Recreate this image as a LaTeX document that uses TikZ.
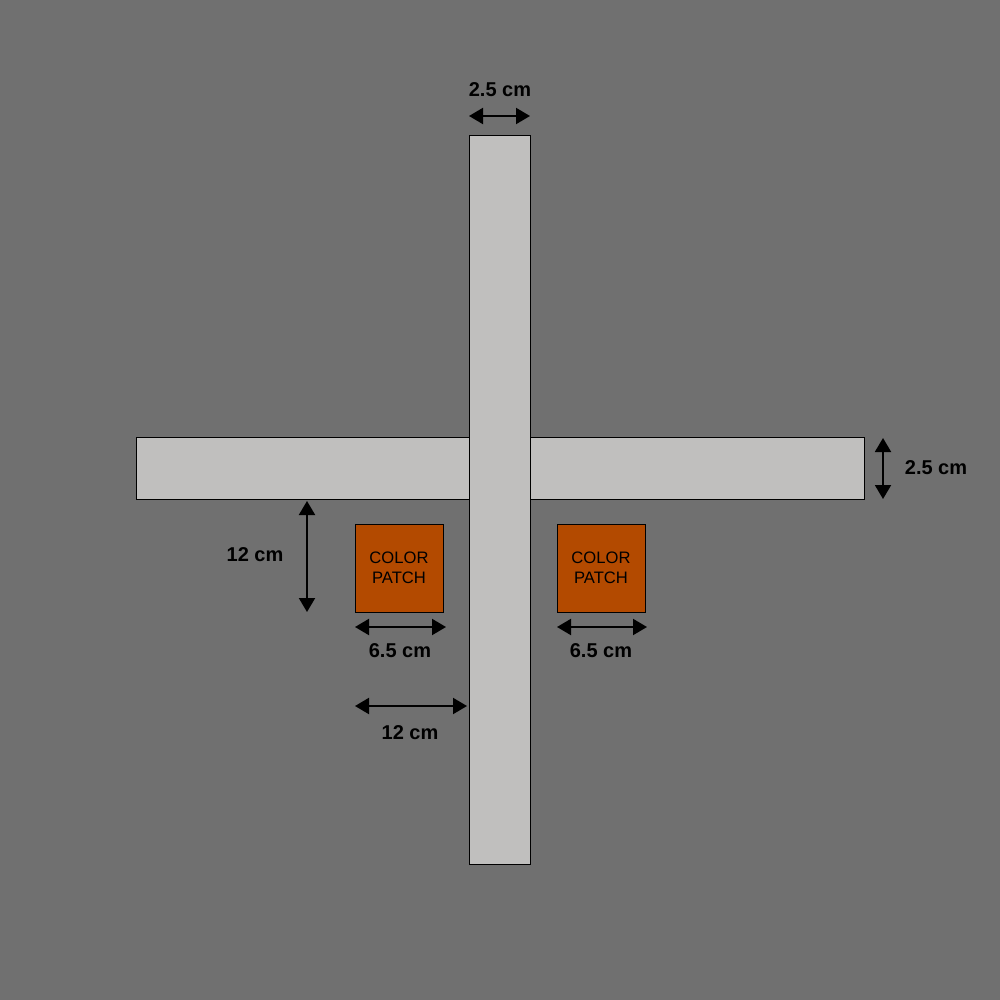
\documentclass[tikz,border=0pt]{standalone}
\usepackage{fontspec}
\setmainfont{Liberation Sans}
\usetikzlibrary{arrows.meta}
\definecolor{bggray}{HTML}{707070}
\definecolor{bargray}{HTML}{C0BFBE}
\definecolor{patchorange}{HTML}{B34A00}
\begin{document}
\begin{tikzpicture}[x=0.5pt, y=-0.5pt,
    bar/.style={draw=black, line width=0.5pt, fill=bargray, inner sep=0pt},
    patch/.style={draw=black, line width=0.5pt, fill=patchorange, inner sep=0pt, minimum width=44pt, minimum height=44pt, align=center, font=\fontsize{8.3}{10}\selectfont},
    dim/.style={line width=1pt, {Triangle[length=7pt,width=8pt]}-{Triangle[length=7pt,width=8pt]}},
    dimlabel/.style={font=\fontsize{10}{12}\selectfont\bfseries}]
    \fill[bggray] (0,0) rectangle (1000,1000);
    \useasboundingbox (0,0) rectangle (1000,1000);
    % bars
    \node [bar, minimum width=364pt, minimum height=31pt] (hbar) at (500,468) {};
    \node [bar, minimum width=30.5pt, minimum height=364pt] (vbar) at (499.5,500) {};
    % patches
    \node [patch] (leftpatch) at (399,568) {COLOR\\PATCH};
    \node [patch] (rightpatch) at (601,568) {COLOR\\PATCH};
    % dimension ends
    \coordinate (topA) at (469,116);
    \coordinate (topB) at (530,116);
    \coordinate (sideA) at (883,438);
    \coordinate (sideB) at (883,499);
    \coordinate (gapA) at (307,501);
    \coordinate (gapB) at (307,612);
    \coordinate (lpA) at (355,627);
    \coordinate (lpB) at (446,627);
    \coordinate (rpA) at (557,627);
    \coordinate (rpB) at (647,627);
    \coordinate (offA) at (355,706);
    \coordinate (offB) at (467,706);
    \draw [dim] (topA) -- (topB);
    \draw [dim] (sideA) -- (sideB);
    \draw [dim] (gapA) -- (gapB);
    \draw [dim] (lpA) -- (lpB);
    \draw [dim] (rpA) -- (rpB);
    \draw [dim] (offA) -- (offB);
    % labels
    \node [dimlabel] (toplabel) at (500,90) {2.5 cm};
    \node [dimlabel] (sidelabel) at (936,468) {2.5 cm};
    \node [dimlabel] (gaplabel) at (255,555) {12 cm};
    \node [dimlabel] (lplabel) at (400,651) {6.5 cm};
    \node [dimlabel] (rplabel) at (601,651) {6.5 cm};
    \node [dimlabel] (offlabel) at (410,733) {12 cm};
\end{tikzpicture}
\end{document}
